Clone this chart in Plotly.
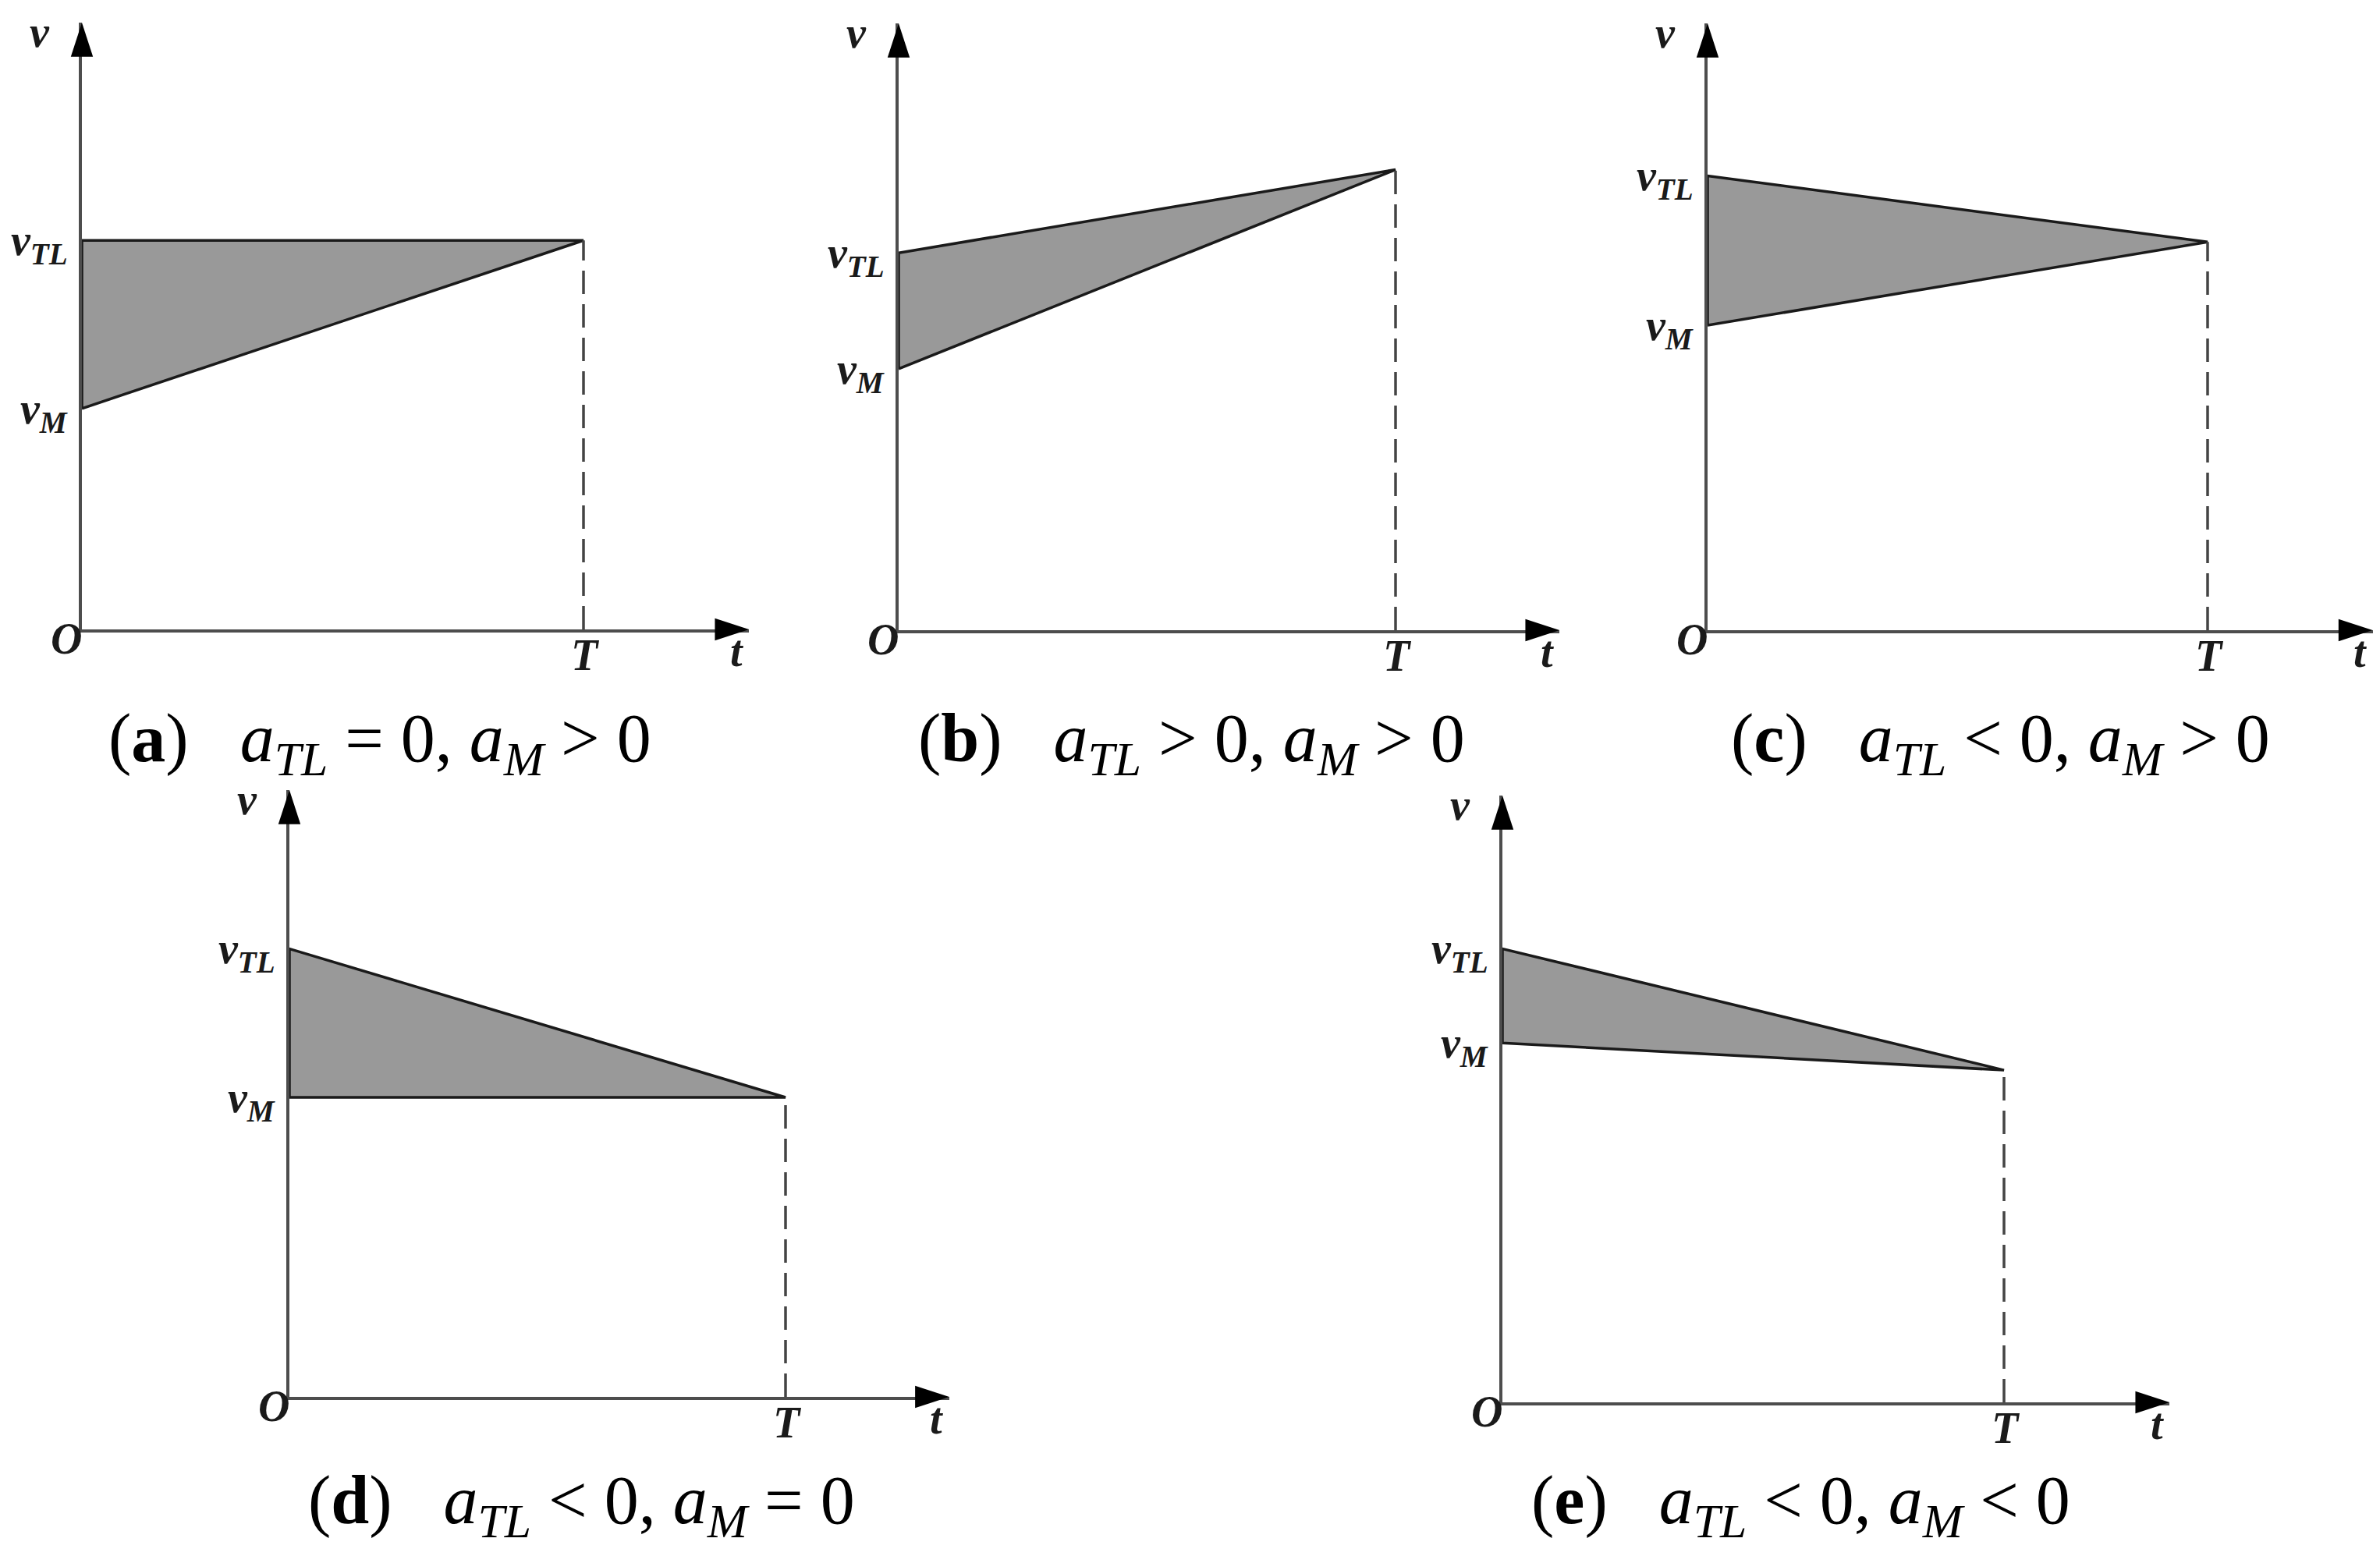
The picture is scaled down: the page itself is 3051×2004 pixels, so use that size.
import plotly.graph_objects as go

# five panels of the velocity diagram
panels = ["a", "b", "c", "d", "e"]
tl_sign = ["=", ">", "<", "<", "<"]
m_sign = [">", ">", ">", "=", "<"]

# speeds at t = 0 and at t = T (arbitrary units)
v_tl_start = [5.00, 4.85, 5.84, 5.76, 5.83]
v_m_start = [2.84, 3.36, 3.92, 3.85, 4.62]
v_end = [5.00, 5.92, 4.99, 3.85, 4.27]

T = 1.0
t_max = 1.33
v_max = 7.8

# pixel layout of each panel: origin x, origin y, pixels from O to T
W, H = 3051, 2004
origin_x = [97, 1144, 2181, 363, 1918]
origin_y = [799, 800, 800, 1783, 1790]
t_px = [643, 637, 641, 636, 643]
v_px = 778
caption_pos = [(479, 944), (1519, 944), (2556, 944), (737, 1921), (2300, 1921)]

font = "Liberation Serif"
ink = "#1a1a1a"
axis_col = "#4d4d4d"

sym = {"=": "=", ">": "&gt;", "<": "&lt;"}

fig = go.Figure()
layout = {}
annotations = []

for i, p in enumerate(panels):
    n = "" if i == 0 else str(i + 1)
    xa, ya = "x" + n, "y" + n
    x0 = origin_x[i] / W
    x1 = (origin_x[i] + t_max * t_px[i]) / W
    y0 = 1 - origin_y[i] / H
    y1 = 1 - (origin_y[i] - v_px) / H
    common = dict(
        showline=True,
        linecolor=axis_col,
        linewidth=4,
        showgrid=False,
        zeroline=False,
        showticklabels=False,
        ticks="",
        fixedrange=True,
        layer="below traces",
    )
    layout["xaxis" + n] = dict(domain=[x0, x1], range=[0, t_max], anchor=ya, **common)
    layout["yaxis" + n] = dict(domain=[y0, y1], range=[0, v_max], anchor=xa, **common)

    # shaded area between the two speed lines
    fig.add_trace(
        go.Scatter(
            x=[0, T, 0, 0],
            y=[v_m_start[i], v_end[i], v_tl_start[i], v_m_start[i]],
            mode="lines",
            fill="toself",
            fillcolor="#999999",
            line=dict(color="#1a1a1a", width=3.5),
            xaxis=xa,
            yaxis=ya,
            hoverinfo="skip",
        )
    )
    # dashed drop line at T
    fig.add_trace(
        go.Scatter(
            x=[T, T],
            y=[0, v_end[i]],
            mode="lines",
            line=dict(color="#444444", width=3.5, dash="30px,13px"),
            xaxis=xa,
            yaxis=ya,
            hoverinfo="skip",
        )
    )
    # arrow heads on the axes
    fig.add_trace(
        go.Scatter(
            x=[t_max, 0],
            y=[0, v_max],
            mode="markers",
            marker=dict(symbol="arrow", size=46, angle=[90, 0], color="black"),
            cliponaxis=False,
            xaxis=xa,
            yaxis=ya,
            hoverinfo="skip",
        )
    )

    lab = dict(xref=xa, yref=ya, showarrow=False, xanchor="center", yanchor="middle",
               font=dict(family=font, size=56, color=ink))
    annotations += [
        dict(x=0, y=0, text="<b><i>O</i></b>", xshift=-20, yshift=-12, **lab),
        dict(x=T, y=0, text="<b><i>T</i></b>", xshift=2, yshift=-33, **lab),
        dict(x=t_max, y=0, text="<b><i>t</i></b>", xshift=-16, yshift=-28, **lab),
        dict(x=0, y=v_max, text="<b><i>v</i></b>", xshift=-54, yshift=-12, **lab),
    ]
    side = dict(lab, xanchor="right")
    annotations += [
        dict(x=0, y=v_tl_start[i], text="<b><i>v</i></b><sub><b><i>TL</i></b></sub>",
             xshift=-16, yshift=-4, **side),
        dict(x=0, y=v_m_start[i], text="<b><i>v</i></b><sub><b><i>M</i></b></sub>",
             xshift=-16, yshift=-4, **side),
    ]

    cx, cy = caption_pos[i]
    caption = (
        "(<b>" + p + "</b>)&nbsp;&nbsp;&nbsp;<i>a</i><sub><i>TL</i></sub> "
        + sym[tl_sign[i]] + " 0, <i>a</i><sub><i>M</i></sub> " + sym[m_sign[i]] + " 0"
    )
    annotations.append(
        dict(
            x=cx / W,
            y=1 - cy / H,
            xref="paper",
            yref="paper",
            xanchor="center",
            yanchor="middle",
            text=caption,
            showarrow=False,
            font=dict(family=font, size=88, color="black"),
        )
    )

fig.update_layout(
    width=W,
    height=H,
    margin=dict(l=0, r=0, t=0, b=0),
    paper_bgcolor="white",
    plot_bgcolor="white",
    showlegend=False,
    annotations=annotations,
    **layout
)

fig.write_html("out.html")
